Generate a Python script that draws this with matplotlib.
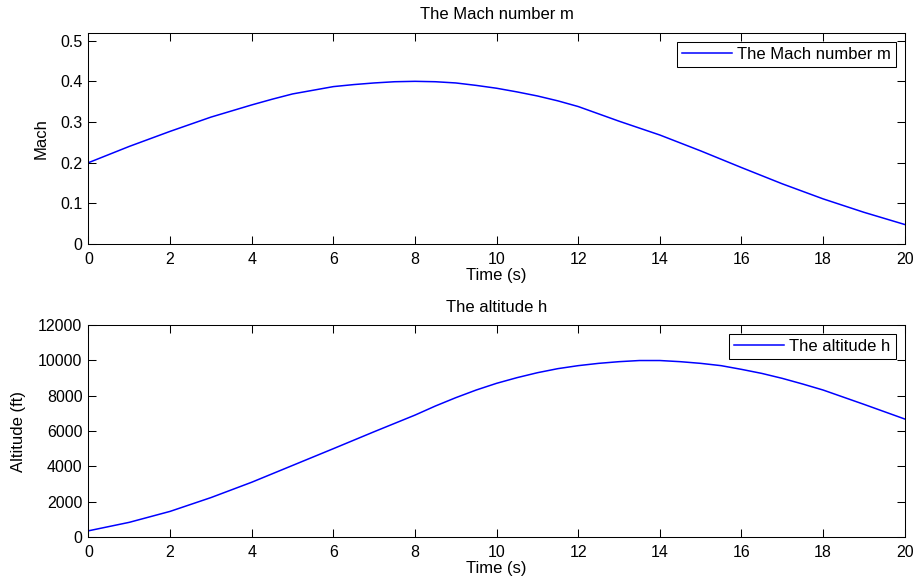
import matplotlib
matplotlib.use('Agg')
import matplotlib.pyplot as plt

# values (finer steps near the peaks)
mach_t = [0, 1, 2, 3, 4, 4.5, 5, 5.5, 6, 6.5, 7, 7.5, 8, 8.5, 9, 9.5, 10, 10.5, 11, 11.5, 12,
          13, 14, 15, 16, 17, 18, 19, 20]
mach = [0.200, 0.240, 0.277, 0.312, 0.342, 0.356, 0.369, 0.378, 0.387, 0.392, 0.396, 0.399,
        0.400, 0.399, 0.396, 0.390, 0.383, 0.374, 0.364, 0.352, 0.338,
        0.302, 0.268, 0.229, 0.188, 0.148, 0.111, 0.078, 0.048]

alt_t = [0, 1, 2, 3, 4, 5, 6, 7, 8, 8.5, 9, 9.5, 10, 10.5, 11, 11.5, 12, 12.5, 13, 13.5, 14,
         14.5, 15, 15.5, 16, 16.5, 17, 17.5, 18, 19, 20]
altitude = [350, 830, 1450, 2230, 3100, 4050, 5000, 5960, 6900, 7415, 7887, 8320, 8700, 9020,
            9300, 9530, 9700, 9830, 9925, 9990, 9990, 9925, 9830, 9700, 9490, 9260, 8980, 8660,
            8320, 7510, 6680]

x_ticks = list(range(0, 21, 2))
mach_ticks = [0, 0.1, 0.2, 0.3, 0.4, 0.5]
mach_labels = ['0', '0.1', '0.2', '0.3', '0.4', '0.5']
alt_ticks = list(range(0, 12001, 2000))

plt.rcParams['font.family'] = ['Liberation Sans', 'DejaVu Sans']
plt.rcParams['font.size'] = 12
plt.rcParams['axes.linewidth'] = 0.75

fig = plt.figure(figsize=(9.17, 5.87), dpi=100)
ax1 = fig.add_axes([0.0965, 0.5843, 0.9866 - 0.0965, 0.9446 - 0.5843])
ax2 = fig.add_axes([0.0965, 0.0852, 0.9866 - 0.0965, 0.4463 - 0.0852])

panels = [
    (ax1, mach_t, mach, 'The Mach number m', 'Mach', (0, 0.52), mach_ticks, mach_labels, 8),
    (ax2, alt_t, altitude, 'The altitude h', 'Altitude (ft)', (0, 12000), alt_ticks,
     [str(t) for t in alt_ticks], 9),
]

for ax, tt, values, name, ylab, ylim, yt, ytl, ypad in panels:
    ax.plot(tt, values, color=(0, 0, 1), lw=1.1, label=name)
    ax.set_xlim(0, 20)
    ax.set_ylim(*ylim)
    ax.set_xticks(x_ticks)
    ax.set_yticks(yt)
    ax.set_yticklabels(ytl)
    ax.tick_params(direction='in', top=True, right=True, length=5.8, width=0.75, labelsize=11.5)
    ax.tick_params(axis='x', pad=6)
    ax.tick_params(axis='y', pad=4.4)
    ax.set_title(name, fontsize=12, pad=9.5)
    ax.set_xlabel('Time (s)', labelpad=0.5)
    ax.set_ylabel(ylab, labelpad=ypad)
    leg = ax.legend(loc='upper right', fancybox=False, edgecolor='black', framealpha=1,
                    handlelength=3.0, handletextpad=0.3, borderpad=0.3, borderaxespad=0.55)
    leg.get_frame().set_linewidth(0.75)

fig.savefig('out.png', dpi=100)
